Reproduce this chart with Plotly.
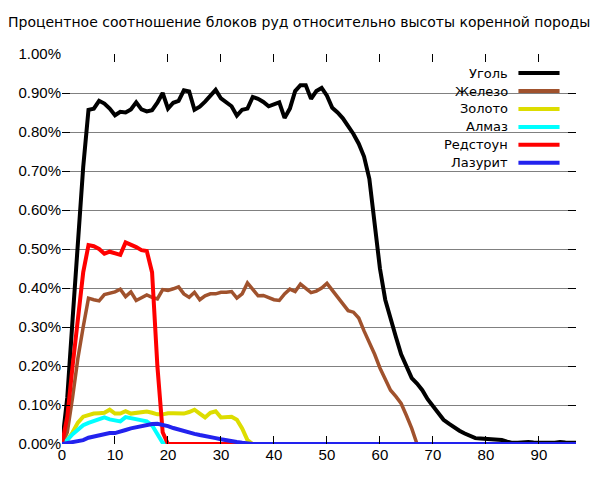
import plotly.graph_objects as go

# height levels (x axis)
heights = list(range(0, 98))

# ore share, percent of blocks at each height
coal = [0.0, 0.12, 0.32, 0.52, 0.71, 0.857, 0.86, 0.88, 0.873, 0.86,
        0.843, 0.852, 0.85, 0.858, 0.876, 0.858, 0.853, 0.856, 0.875, 0.9,
        0.86, 0.875, 0.88, 0.907, 0.904, 0.857, 0.865, 0.878, 0.893, 0.908,
        0.886, 0.876, 0.866, 0.842, 0.857, 0.86, 0.89, 0.885, 0.877, 0.866,
        0.871, 0.876, 0.836, 0.86, 0.905, 0.92, 0.92, 0.885, 0.905, 0.913,
        0.893, 0.862, 0.85, 0.835, 0.815, 0.795, 0.77, 0.737, 0.68, 0.56,
        0.45, 0.37, 0.32, 0.275, 0.23, 0.199, 0.169, 0.155, 0.138, 0.115,
        0.096, 0.078, 0.062, 0.052, 0.042, 0.034, 0.027, 0.02, 0.015, 0.014,
        0.013, 0.012, 0.011, 0.01, 0.006, 0.003, 0.003, 0.005, 0.005, 0.004,
        0.003, 0.002, 0.003, 0.003, 0.005, 0.004, 0.003, 0.003]

iron = [0.0, 0.03, 0.12, 0.22, 0.3, 0.374, 0.37, 0.367, 0.383, 0.386,
        0.39, 0.397, 0.378, 0.39, 0.368, 0.375, 0.382, 0.376, 0.372, 0.396,
        0.394, 0.398, 0.403, 0.385, 0.376, 0.389, 0.37, 0.38, 0.385, 0.385,
        0.389, 0.389, 0.391, 0.374, 0.385, 0.413, 0.395, 0.38, 0.381, 0.375,
        0.37, 0.368, 0.385, 0.397, 0.391, 0.41, 0.4, 0.388, 0.392, 0.4,
        0.412, 0.395, 0.378, 0.36, 0.342, 0.338, 0.323, 0.29, 0.262, 0.23,
        0.195, 0.165, 0.138, 0.122, 0.104, 0.073, 0.04] + [0.0] * 31

gold = [0.0, 0.01, 0.03, 0.055, 0.07, 0.075, 0.078, 0.079, 0.08, 0.088,
        0.078, 0.078, 0.084, 0.078, 0.08, 0.082, 0.083, 0.08, 0.076, 0.076,
        0.079, 0.079, 0.079, 0.078, 0.082, 0.088, 0.078, 0.068, 0.08, 0.084,
        0.068, 0.069, 0.07, 0.062, 0.04, 0.01] + [0.0] * 62

diamond = [0.0, 0.01, 0.025, 0.038, 0.048, 0.054, 0.058, 0.063, 0.068, 0.063,
           0.06, 0.058, 0.069, 0.066, 0.063, 0.062, 0.058, 0.048, 0.025, 0.003] + [0.0] * 78

redstone = [0.0, 0.07, 0.2, 0.33, 0.44, 0.51, 0.507, 0.5, 0.488, 0.493,
            0.489, 0.485, 0.517, 0.512, 0.505, 0.497, 0.495, 0.44, 0.2, 0.03] + [0.0] * 78

lapis = [0.0, 0.002, 0.004, 0.007, 0.01, 0.016, 0.019, 0.021, 0.025, 0.028,
         0.028, 0.031, 0.036, 0.04, 0.043, 0.046, 0.049, 0.051, 0.052, 0.05,
         0.046, 0.041, 0.037, 0.032, 0.028, 0.026, 0.023, 0.021, 0.018, 0.015,
         0.012, 0.009, 0.007, 0.005, 0.003, 0.001] + [0.0] * 62

names = ["Уголь", "Железо", "Золото", "Алмаз", "Редстоун", "Лазурит"]
series = [coal, iron, gold, diamond, redstone, lapis]
colors = ["#000000", "#a0522d", "#dddd00", "#00ffff", "#ff0000", "#2222ee"]
widths = [4, 3.5, 4, 4, 4, 4]

fig = go.Figure()
for name, vals, col, w in zip(names, series, colors, widths):
    fig.add_trace(go.Scatter(x=heights, y=vals, mode="lines", name=name,
                             line=dict(color=col, width=w), showlegend=False))

# hand-made legend: label on the left, line sample on the right
fig.add_shape(type="rect", xref="paper", yref="paper", x0=0.689, x1=0.984, y0=0.66, y1=0.985,
              fillcolor="white", line=dict(width=0), layer="between")
for i, (name, col) in enumerate(zip(names, colors)):
    yy = 0.951 - i * 0.046
    fig.add_annotation(xref="paper", yref="paper", x=0.872, y=yy, text=name, showarrow=False,
                       xanchor="right", yanchor="middle",
                       font=dict(family="DejaVu Sans", size=13, color="black"))
    fig.add_shape(type="line", xref="paper", yref="paper", x0=0.888, x1=0.968, y0=yy, y1=yy,
                  line=dict(color=col, width=4), layer="above")

axis_font = dict(family="Liberation Sans, Arial", size=15, color="black")
# page body has an 8px margin, so the figure is a bit smaller than the window
fig.update_layout(
    width=584, height=464,
    margin=dict(l=54, r=16, t=46, b=28),
    paper_bgcolor="white", plot_bgcolor="white",
    title=dict(text="Процентное соотношение блоков руд относительно высоты коренной породы",
               x=0.0, xanchor="left", y=0.97, yanchor="middle",
               font=dict(family="DejaVu Sans", size=14, color="black")),
)
fig.update_xaxes(range=[0, 97], dtick=10, tick0=0, showgrid=False, zeroline=False,
                 ticks="inside", ticklen=8, tickcolor="black", mirror="ticks",
                 showline=False, tickfont=axis_font, automargin=False)
fig.update_yaxes(range=[0, 1.0], dtick=0.1, tick0=0, tickformat=".2f", ticksuffix="%",
                 showgrid=True, gridcolor="#808080", gridwidth=1, zeroline=False,
                 ticks="inside", ticklen=8, tickcolor="black", mirror="ticks",
                 showline=False, tickfont=axis_font, automargin=False)

fig.write_html("out.html")
